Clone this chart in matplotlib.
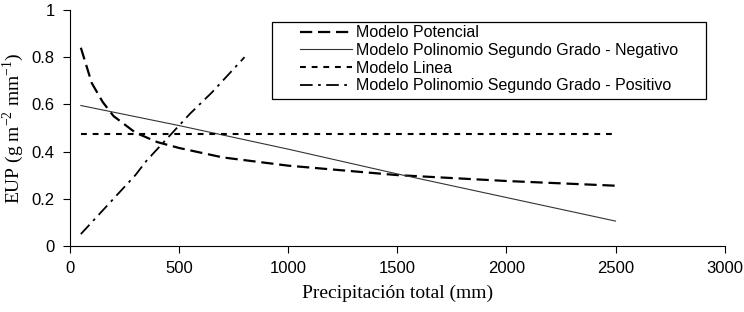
import matplotlib.pyplot as plt
from matplotlib.patches import Rectangle

# Modelo Potencial
pot_x = [50, 100, 150, 200, 300, 400, 500, 700, 1000, 1500, 2000, 2500]
pot_y = [0.84, 0.69, 0.61, 0.55, 0.48, 0.44, 0.415, 0.375, 0.34, 0.30, 0.275, 0.255]

# Modelo Polinomio Segundo Grado - Negativo
neg_x = [50, 500, 1000, 1500, 2000, 2500]
neg_y = [0.595, 0.51, 0.41, 0.305, 0.205, 0.105]

# Modelo Linea
lin_x = [50, 2500]
lin_y = [0.475, 0.475]

# Modelo Polinomio Segundo Grado - Positivo
pos_x = [50, 150, 250, 300, 350, 450, 550, 650, 800]
pos_y = [0.05, 0.15, 0.25, 0.30, 0.36, 0.46, 0.56, 0.65, 0.80]

xticks = [0, 500, 1000, 1500, 2000, 2500, 3000]
yticks = [0, 0.2, 0.4, 0.6, 0.8, 1]
ytick_labels = ["0", "0.2", "0.4", "0.6", "0.8", "1"]

fig = plt.figure(figsize=(7.44, 3.12), dpi=100)
ax = fig.add_axes([0.094, 0.212, 0.880, 0.756])

ax.plot(pot_x, pot_y, color="black", lw=1.6, dashes=(5.5, 2.6), label="Modelo Potencial")
ax.plot(neg_x, neg_y, color="#333333", lw=0.8, label="Modelo Polinomio Segundo Grado - Negativo")
ax.plot(lin_x, lin_y, color="black", lw=1.5, dashes=(2.8, 2.8), label="Modelo Linea")
ax.plot(pos_x, pos_y, color="black", lw=1.3, dashes=(7, 3, 1.5, 3), label="Modelo Polinomio Segundo Grado - Positivo")

ax.set_xlim(0, 3000)
ax.set_ylim(0, 1)
ax.set_xticks(xticks)
ax.set_yticks(yticks)
ax.set_yticklabels(ytick_labels)
ax.tick_params(direction="out", length=5, width=0.8, labelsize=12, pad=6)
for lab in ax.get_xticklabels() + ax.get_yticklabels():
    lab.set_family("Liberation Sans")

ax.spines["top"].set_visible(False)
ax.spines["right"].set_visible(False)

ax.set_xlabel("Precipitación total (mm)", family="Liberation Serif", fontsize=14, labelpad=6)
ax.set_ylabel("EUP (g m$^{\\mathregular{-2}}$ mm$^{\\mathregular{-1}}$)", family="Liberation Serif",
              fontsize=14, labelpad=4)

# legend box wider than its contents, as in the original
ax.add_patch(Rectangle((0.308, 0.623), 0.663, 0.326, transform=ax.transAxes, fill=True,
                       facecolor="white", edgecolor="black", lw=0.9, zorder=4))
leg = ax.legend(loc="upper left", bbox_to_anchor=(0.351, 0.935), prop={"family": "Liberation Sans", "size": 11.5},
                frameon=False, handlelength=3.25, handletextpad=0.3,
                labelspacing=0.17, borderpad=0, borderaxespad=0)
leg.set_zorder(5)

fig.savefig("out.png", dpi=100)
